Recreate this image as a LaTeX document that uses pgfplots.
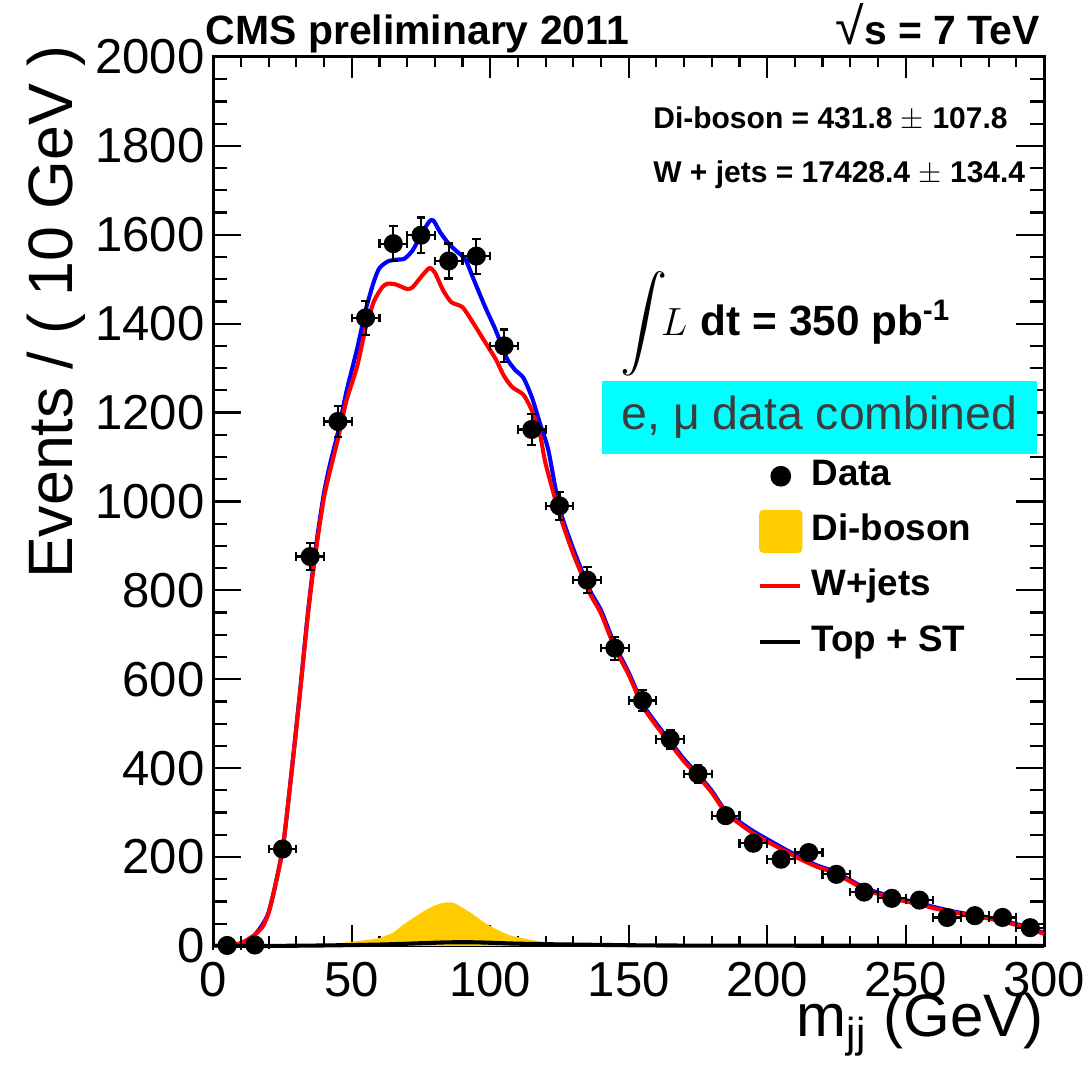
\documentclass[border=0pt]{standalone}
\usepackage{fontspec}
\setmainfont{Liberation Sans}
\usepackage{exscale}
\usepackage{pgfplots}
\pgfplotsset{compat=1.18}
\usepackage{pgfplotstable}

\definecolor{diboson}{RGB}{255,204,0}
\definecolor{boxcyan}{RGB}{0,255,255}
\definecolor{boxtext}{RGB}{60,60,60}

% data: bin centre, events, x half-width, stat. error
\pgfplotstableread{
x    y     ex  ey
5    1     5   1.0
15   2     5   1.4
25   218   5   14.8
35   876   5   29.6
45   1180  5   34.4
55   1413  5   37.6
65   1580  5   39.7
75   1599  5   40.0
85   1541  5   39.3
95   1552  5   39.4
105  1350  5   36.7
115  1162  5   34.1
125  990   5   31.5
135  823   5   28.7
145  670   5   25.9
155  552   5   23.5
165  465   5   21.6
175  387   5   19.7
185  293   5   17.1
195  231   5   15.2
205  195   5   14.0
215  210   5   14.5
225  161   5   12.7
235  121   5   11.0
245  107   5   10.3
255  103   5   10.1
265  64    5   8.0
275  68    5   8.2
285  64    5   8.0
295  41    5   6.4
}\datatable

% W+jets shape
\pgfplotstableread{
x   y
0   0
5   1
10  6
15  25
18  45
20  75
22  125
25  216
28  375
31  550
34  735
36  840
38  930
40  1010
42  1065
45  1140
48  1225
52  1305
55  1390
58  1450
61  1482
63  1490
66  1488
70  1478
72  1482
75  1505
78  1525
80  1515
83  1475
86  1448
90  1437
94  1400
98  1360
102 1320
105 1282
108 1257
112 1240
115 1205
118 1150
120 1085
125 972
130 882
136 793
140 748
145 670
150 610
155 540
160 495
165 455
170 415
175 382
180 345
185 300
190 275
195 253
200 235
206 215
212 195
218 178
224 165
230 145
235 128
240 117
245 108
250 100
255 94
260 85
266 77
272 70
278 64
285 55
290 47
295 38
300 27
}\wjets

% total fit
\pgfplotstableread{
x   y
0   0
5   1
10  6
15  25
20  76
25  217
28  377
31  553
34  740
36  848
38  940
40  1020
42  1080
45  1155
48  1245
52  1345
55  1430
58  1495
60  1525
63  1540
66  1544
69  1546
72  1565
75  1600
78  1630
79.5 1632
82  1605
85  1580
88  1562
91  1545
94  1500
98  1440
102 1385
106 1322
109 1296
112 1278
115 1235
118 1175
121 1115
125 985
130 893
136 800
140 755
145 677
150 615
155 545
160 500
165 460
170 420
175 386
180 349
185 303
190 279
195 258
200 240
206 219
212 199
218 181
224 168
230 148
235 131
240 120
245 111
250 103
255 96
260 88
266 79
272 72
278 66
285 57
290 49
295 40
300 29
}\total

% di-boson component
\pgfplotstableread{
x   y
0   0
20  0
30  1
40  4
50  9
55  13
60  18
65  30
68  45
72  62
76  78
80  91
84  98
87  96
90  86
94  70
98  52
102 38
107 24
112 17
116 12
120 9
128 6
140 3
150 1
170 0
300 0
}\dibosontab

% top + single top component
\pgfplotstableread{
x   y
0   0
20  0
40  1
60  3
75  6
85  8
95  8
110 5
130 3
160 1
200 0.5
300 0
}\toptab

\begin{document}
\begin{tikzpicture}
\begin{axis}[
  scale only axis,
  width=304.6pt, height=325.9pt,
  xmin=0, xmax=300, ymin=0, ymax=2000,
  clip=false,
  xtick={0,50,...,300}, ytick={0,200,...,2000},
  minor x tick num=4, minor y tick num=3,
  tick align=inside,
  xtick pos=both, ytick pos=both,
  xticklabel pos=lower, yticklabel pos=left,
  axis line style={line width=1.1pt},
  every tick/.style={black, line width=0.8pt},
  major tick length=10.2pt, minor tick length=5pt,
  xtick style={/pgfplots/major tick length=7.7pt, /pgfplots/minor tick length=3.7pt},
  /pgf/number format/1000 sep={},
  /pgf/number format/assume math mode=true,
  tick label style={font=\fontsize{18}{20}\selectfont},
  yticklabel style={anchor=east, inner sep=0pt, xshift=-3pt},
  xticklabel style={anchor=north, inner sep=0pt, yshift=-5.9pt},
  xlabel={m\textsubscript{jj} (GeV)},
  ylabel={Events / ( 10 GeV )},
  xlabel style={font=\fontsize{22}{24}\selectfont, at={(rel axis cs:1,-0.1024)}, anchor=base east, inner sep=0pt},
  ylabel style={font=\fontsize{23}{25}\selectfont, at={(rel axis cs:-0.170,1.0135)}, anchor=base east, rotate=0, inner sep=0pt},
  legend style={at={(rel axis cs:0.655,0.5535)}, anchor=north west,
    draw=none, fill=none, font=\bfseries\fontsize{13.5}{16}\selectfont,
    row sep=4.2pt, column sep=3.3pt, inner sep=0pt,
    nodes={inner sep=0pt, text height=10pt, text depth=3pt}},
  legend cell align=left,
]
% legend entries
\addlegendimage{legend image code/.code={\path[draw=none,fill=none] (0pt,-8pt) rectangle (15.8pt,8pt);\fill[black] (7.9pt,0pt) circle (3.6pt);}}
\addlegendentry{Data}
\addlegendimage{legend image code/.code={\path[draw=none,fill=none] (0pt,-8pt) rectangle (15.8pt,8pt);\fill[diboson, draw=none, rounded corners=1.5pt] (0pt,-7.9pt) rectangle (15.8pt,7.9pt);}}
\addlegendentry{Di-boson}
\addlegendimage{legend image code/.code={\path[draw=none,fill=none] (0pt,-8pt) rectangle (15.8pt,8pt);\draw[red, line width=1.5pt] (0.3pt,0pt) -- (15.1pt,0pt);}}
\addlegendentry{W+jets}
\addlegendimage{legend image code/.code={\path[draw=none,fill=none] (0pt,-8pt) rectangle (15.8pt,8pt);\draw[black, line width=1.5pt] (0.3pt,0pt) -- (15.1pt,0pt);}}
\addlegendentry{Top + ST}

% components
\addplot[forget plot, fill=diboson, draw=none, smooth, tension=0.4] table[x=x, y=y] {\dibosontab} \closedcycle;
\addplot[forget plot, black, line width=1.5pt, smooth] table[x=x, y=y] {\toptab};
\addplot[forget plot, blue, line width=1.5pt, smooth, tension=0.4, line join=round] table[x=x, y=y] {\total};
\addplot[forget plot, red, line width=1.5pt, smooth, tension=0.4, line join=round] table[x=x, y=y] {\wjets};

% data with errors
\addplot[forget plot, only marks, mark=*, mark size=3.3pt, black,
  error bars/.cd, x dir=both, x explicit, y dir=both, y explicit,
  error bar style={line width=0.8pt},
  error mark options={rotate=90, mark size=1.6pt, line width=0.8pt}]
  table[x=x, y=y, x error=ex, y error=ey] {\datatable};

% annotations
\node[anchor=base west, inner sep=0pt, font=\bfseries\fontsize{15}{18}\selectfont] at (rel axis cs:-0.0096,1.0135) {CMS preliminary 2011};
\node[anchor=base east, inner sep=0pt, font=\bfseries\fontsize{15}{18}\selectfont] at (rel axis cs:0.9952,1.0135) {{\mdseries\fontsize{19}{19}\selectfont √}s = 7 TeV};
\node[anchor=base west, inner sep=0pt, font=\bfseries\fontsize{11}{13}\selectfont] at (rel axis cs:0.529,0.920) {Di-boson = 431.8 {\mdseries$\pm$} 107.8};
\node[anchor=base west, inner sep=0pt, font=\bfseries\fontsize{11}{13}\selectfont] at (rel axis cs:0.529,0.859) {W + jets = 17428.4 {\mdseries$\pm$} 134.4};
\node[anchor=base west, inner sep=0pt] at (rel axis cs:0.4896,0.687) {\fontsize{16.5}{18}\selectfont$\displaystyle\int$\fontsize{15}{18}\selectfont$\! L$\hspace{5pt}\bfseries\fontsize{15.5}{20}\selectfont dt = 350 pb\textsuperscript{-1}};
\node[fill=boxcyan, text=boxtext, inner sep=0pt, minimum width=159.5pt, minimum height=26.8pt,
  font=\fontsize{17}{20}\selectfont] at (rel axis cs:0.7295,0.5945) {e, μ data combined};
\end{axis}
\pgfresetboundingbox
\path[use as bounding box] ([xshift=-78.2pt,yshift=-48pt]current axis.south west) rectangle ([xshift=17.2pt,yshift=20.9pt]current axis.north east);
\end{tikzpicture}
\end{document}
